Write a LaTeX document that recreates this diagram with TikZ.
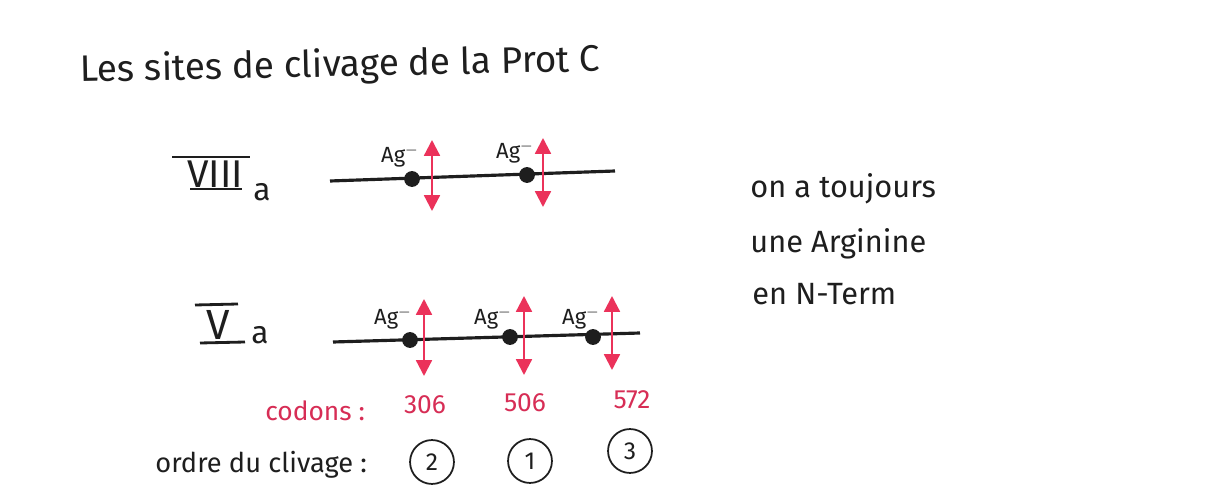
\documentclass[tikz,border=0pt]{standalone}
\usepackage{fontspec}
\setmainfont{Fira Sans}
\usetikzlibrary{arrows.meta}
\definecolor{ink}{RGB}{30,30,30}
\definecolor{rouge}{RGB}{235,50,90}
\definecolor{rougetxt}{RGB}{215,45,85}
\tikzset{
  hand/.style={font=\fontsize{17.5}{19}\selectfont, text=ink, inner sep=0pt, anchor=base west},
  strand/.style={draw=ink, line width=1.8pt},
  site/.style={circle, fill=ink, inner sep=0pt, minimum size=9pt},
  cut/.style={draw=rouge, line width=1.3pt, {Triangle[length=9pt,width=9pt]}-{Triangle[length=9pt,width=9pt]}},
  arg/.style={font=\fontsize{12.5}{13}\selectfont, text=ink, inner sep=0pt},
  codon/.style={font=\fontsize{15}{16}\selectfont, text=rougetxt, inner sep=0pt},
  rang/.style={circle, draw=ink, line width=1pt, font=\fontsize{14}{15}\selectfont, text=ink, inner sep=1pt, minimum size=25pt},
  bar/.style={draw=ink, line width=1.6pt}
}
\begin{document}
\begin{tikzpicture}[x=0.02cm, y=-0.02cm]
\useasboundingbox[fill=white] (0,0) rectangle (1211,493);
% title
\node[hand, font=\fontsize{21}{24}\selectfont, rotate=1.2] (title) at (80,82) {Les sites de clivage de la Prot C};
% VIII a
\node[font=\fontsize{22}{24}\selectfont, text=ink, inner sep=0pt] (viii) at (215,174) {VIII};
\node[font=\fontsize{18}{20}\selectfont, text=ink, inner sep=0pt] (viiia) at (262,192) {a};
\draw[bar] (172,157) -- (250,157);
\draw[bar] (190,189) -- (242,189);
% line 1
\coordinate (l1a) at (330,181);
\coordinate (l1b) at (615,171);
\draw[strand] (l1a) -- (l1b);
\node[site] (s11) at (412,179) {};
\node[site] (s12) at (527,175) {};
\node[arg] (a11) at (400,156) {Ag$^{-}$};
\node[arg] (a12) at (515,152) {Ag$^{-}$};
\coordinate (c11t) at (432,140); \coordinate (c11b) at (432,211);
\coordinate (c12t) at (543,138); \coordinate (c12b) at (543,207);
\draw[cut] (c11t) -- (c11b);
\draw[cut] (c12t) -- (c12b);
% V a
\node[font=\fontsize{24}{26}\selectfont, text=ink, inner sep=0pt] (v) at (218,325) {V};
\node[font=\fontsize{18}{20}\selectfont, text=ink, inner sep=0pt] (va) at (260,335) {a};
\draw[bar] (195,305) -- (238,304);
\draw[bar] (200,343) -- (245,342);
% line 2
\coordinate (l2a) at (333,342);
\coordinate (l2b) at (640,333);
\draw[strand] (l2a) -- (l2b);
\node[site] (s21) at (410,340) {};
\node[site] (s22) at (510,337) {};
\node[site] (s23) at (593,337) {};
\node[arg] (a21) at (393,318) {Ag$^{-}$};
\node[arg] (a22) at (493,318) {Ag$^{-}$};
\node[arg] (a23) at (581,318) {Ag$^{-}$};
\coordinate (c21t) at (424,299); \coordinate (c21b) at (424,376);
\coordinate (c22t) at (524,296); \coordinate (c22b) at (524,375);
\coordinate (c23t) at (612,296); \coordinate (c23b) at (612,370);
\draw[cut] (c21t) -- (c21b);
\draw[cut] (c22t) -- (c22b);
\draw[cut] (c23t) -- (c23b);
% codons
\node[codon, anchor=base west] (codons) at (265,420) {codons :};
\node[codon] (n306) at (425,405) {306};
\node[codon] (n506) at (525,403) {506};
\node[codon] (n572) at (632,400) {572};
% ordre
\node[hand, font=\fontsize{15.5}{17}\selectfont] (ordre) at (155,472) {ordre du clivage :};
\node[rang] (r2) at (432,462) {2};
\node[rang] (r1) at (530,461) {1};
\node[rang] (r3) at (630,451) {3};
% note
\node[hand] (t1) at (750,198) {on a toujours};
\node[hand] (t2) at (750,253) {une Arginine};
\node[hand] (t3) at (752,305) {en N-Term};
\end{tikzpicture}
\end{document}
